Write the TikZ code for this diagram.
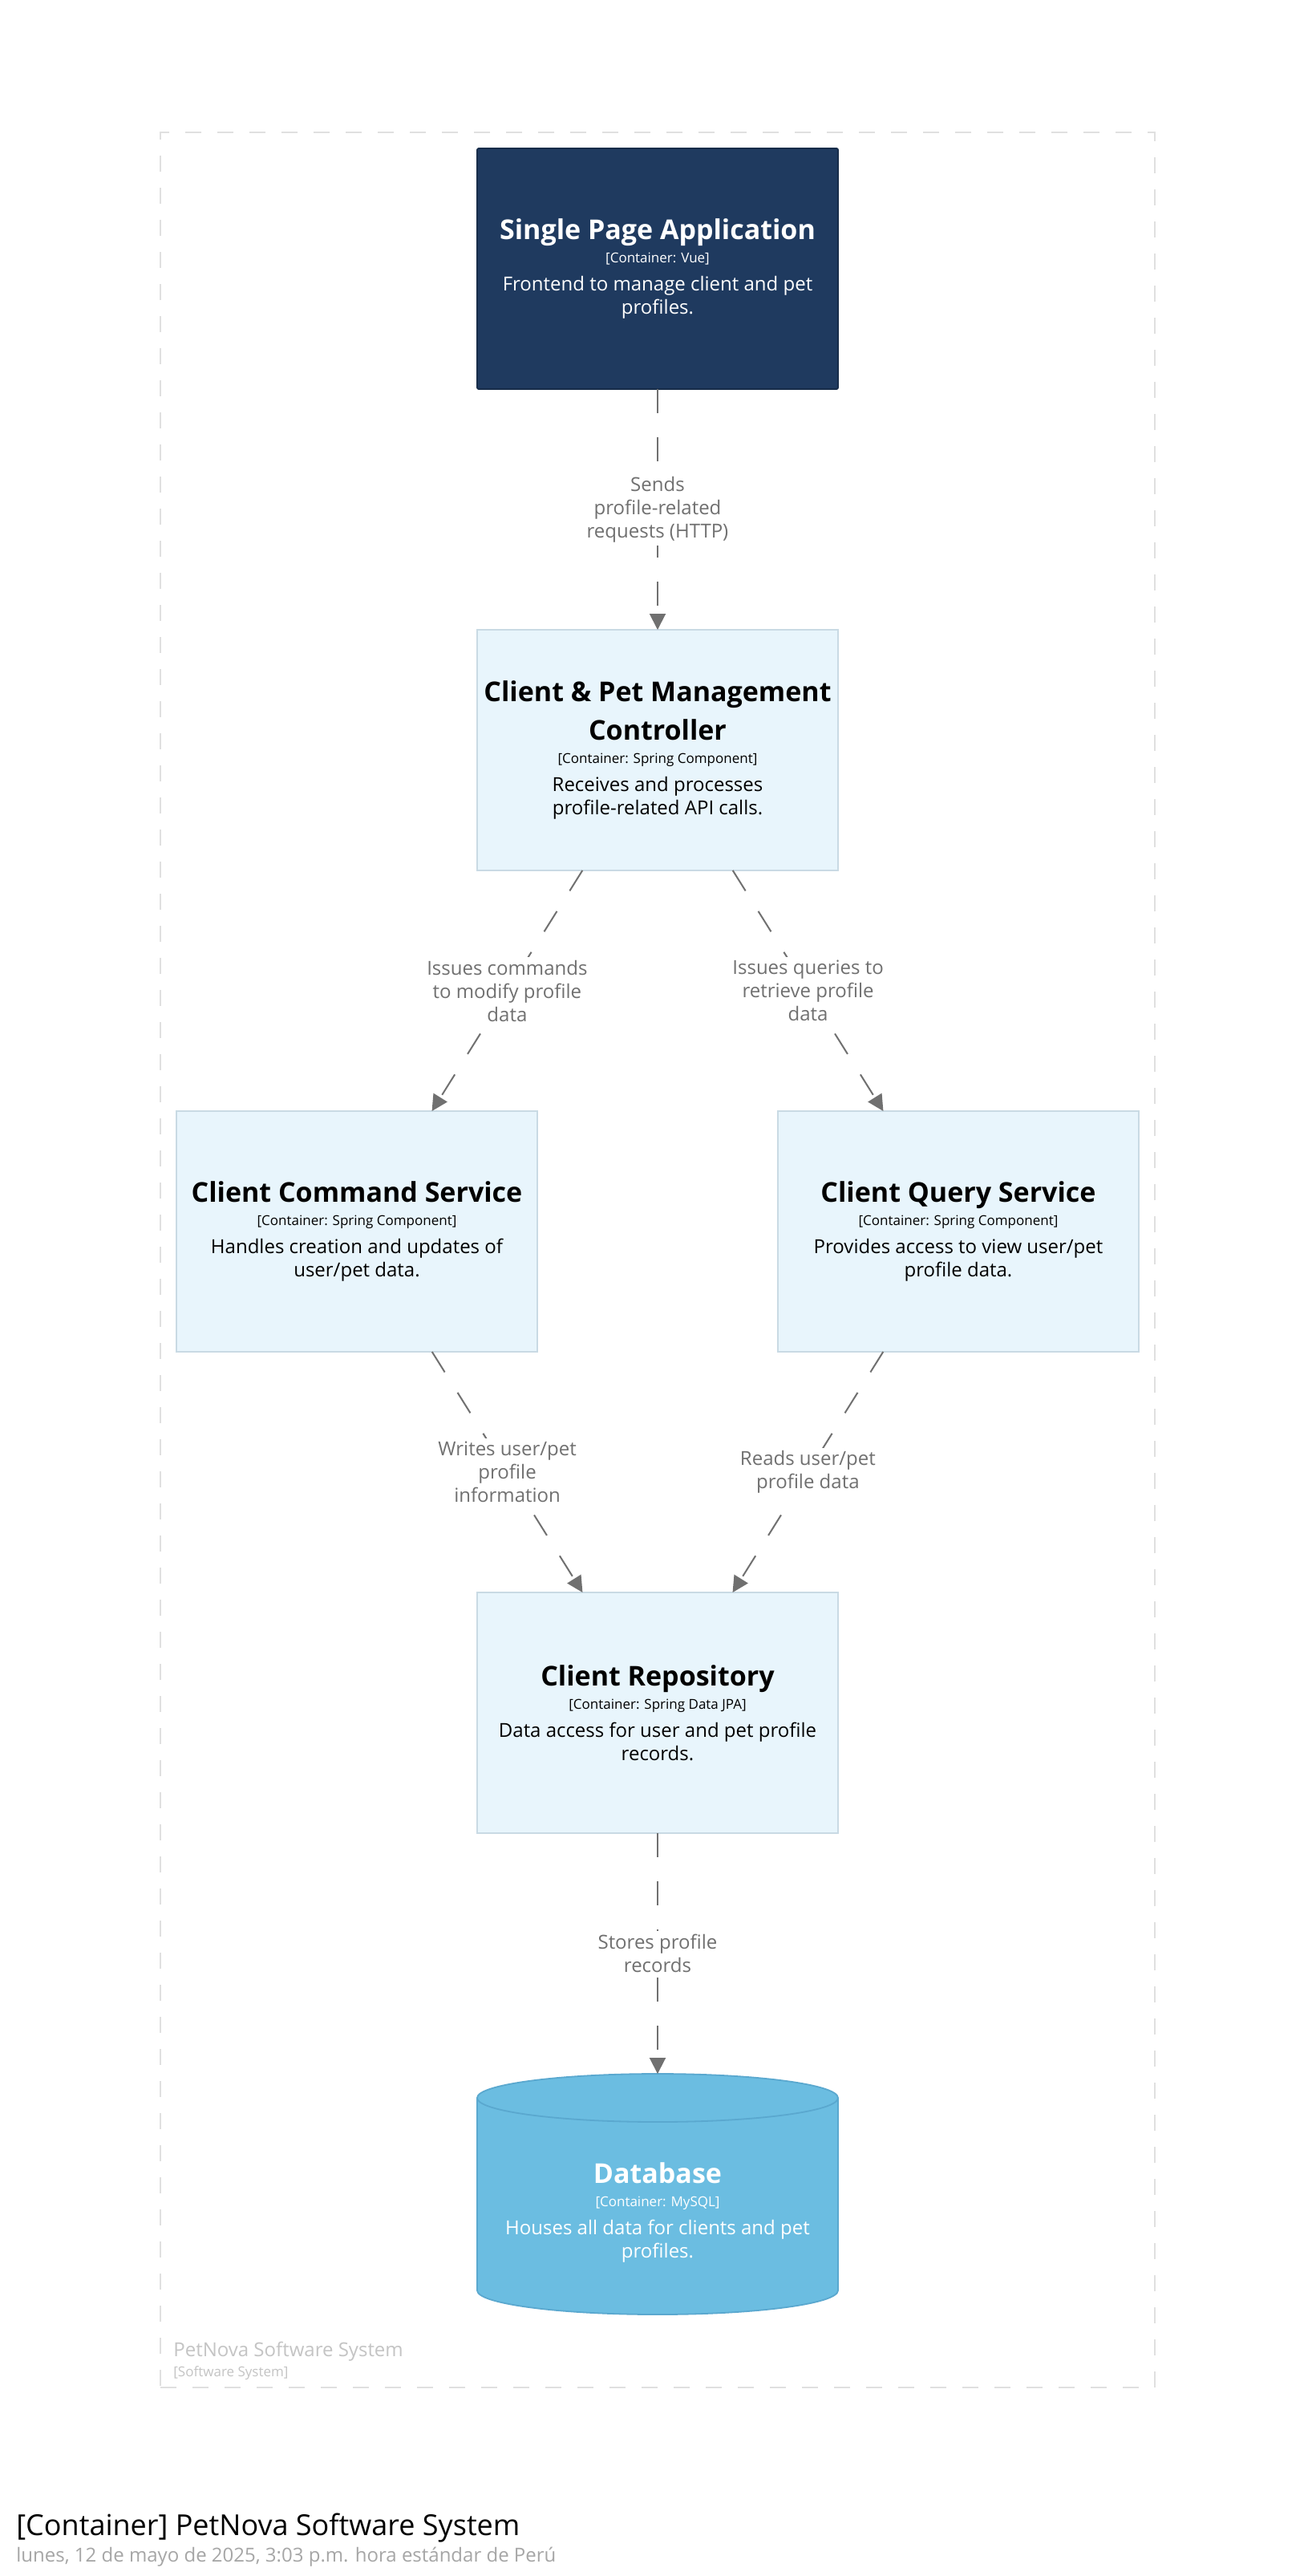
\documentclass[tikz,border=0pt]{standalone}
\usepackage{fontspec}
\setmainfont{Open Sans}
\usetikzlibrary{arrows.meta,positioning}
\usetikzlibrary{fit}
\usetikzlibrary{backgrounds}
\definecolor{spa_blue}{HTML}{1F3A5F}
\definecolor{spa_border}{HTML}{172C49}
\definecolor{comp_fill}{HTML}{E8F5FC}
\definecolor{comp_border}{HTML}{C9DAE4}
\definecolor{db_fill}{HTML}{6BBDE1}
\definecolor{db_border}{HTML}{5AA8CF}
\definecolor{rel_grey}{HTML}{707070}
\definecolor{bound_grey}{HTML}{E0E0E0}
\definecolor{bound_text}{HTML}{C4C4C4}
\definecolor{date_grey}{HTML}{A6A6A6}
\newcommand{\ctitle}{\fontsize{17}{20.5}\selectfont\bfseries}
\newcommand{\ctech}{\fontsize{8.5}{10}\selectfont}

\begin{document}
\begin{tikzpicture}[
	    x=1pt, y=1pt,
	    comp/.style={rectangle, draw=comp_border, fill=comp_fill, line width=0.9pt, minimum width=225pt, minimum height=150pt, inner sep=0pt, outer sep=0pt, align=center, font=\fontsize{12}{14.5}\selectfont},
	    spabox/.style={comp, draw=spa_border, fill=spa_blue, text=white, rounded corners=1pt},
	    dbbox/.style={comp, draw=none, fill=none},
	    dbtext/.style={align=center, inner sep=0pt, text=white, font=\fontsize{12}{14.5}\selectfont},
	    dbshape/.style={draw=db_border, fill=db_fill, line width=0.9pt},
	    rel/.style={draw=rel_grey, line width=1pt, dash pattern=on 15pt off 15pt, -{Triangle[length=10pt, width=10pt]}},
	    rellabel/.style={fill=white, text=rel_grey, align=center, inner sep=2pt, font=\fontsize{12}{14.5}\selectfont},
	    boundarybox/.style={draw=bound_grey, line width=1pt, dash pattern=on 10pt off 10pt, inner sep=0pt},
	    boundtext/.style={text=bound_text, inner sep=0pt, anchor=base west},
	]
	\path[use as bounding box] (0,0) rectangle (820,-1605.5);

	% ------------ Containers

	\node[spabox] (spa) at (410,-167.5) {{\ctitle Single Page Application}\\
	    {\ctech [Container: Vue]}\\[3pt]
	    Frontend to manage client and pet\\profiles.};
	\node[comp, below=150pt of spa] (ctrl) {{\ctitle Client \& Pet Management}\\[6pt]
	    {\ctitle Controller}\\
	    {\ctech [Container: Spring Component]}\\[3pt]
	    Receives and processes\\profile-related API calls.};
	\node[comp, below left=150pt and -37.5pt of ctrl] (cmd) {{\ctitle Client Command Service}\\
	    {\ctech [Container: Spring Component]}\\[3pt]
	    Handles creation and updates of\\user/pet data.};
	\node[comp, below right=150pt and -37.5pt of ctrl] (qry) {{\ctitle Client Query Service}\\
	    {\ctech [Container: Spring Component]}\\[3pt]
	    Provides access to view user/pet\\profile data.};
	\node[comp, below=450pt of ctrl] (repo) {{\ctitle Client Repository}\\
	    {\ctech [Container: Spring Data JPA]}\\[3pt]
	    Data access for user and pet profile\\records.};
	\node[dbbox, below=150pt of repo] (db) {};

	\begin{scope}[on background layer]
	    \fill[white] (0,0) rectangle (820,-1605.5);
	    \path[dbshape] ([yshift=-15pt]db.north west) -- ([yshift=15pt]db.south west)
	        arc[start angle=180, end angle=360, x radius=112.5, y radius=15]
	        -- ([yshift=-15pt]db.north east)
	        arc[start angle=0, end angle=180, x radius=112.5, y radius=15] -- cycle;
	    \draw[db_border, line width=0.9pt] ([yshift=-15pt]db.north west)
	        arc[start angle=180, end angle=360, x radius=112.5, y radius=15];
	\end{scope}
	\node[dbtext, yshift=-11.5pt] (dblabel) at (db) {{\ctitle Database}\\
	    {\ctech [Container: MySQL]}\\[3pt]
	    Houses all data for clients and pet\\profiles.};

	% ------------ Relationships

	\draw[rel] (spa) -- node[rellabel] (sendslbl) {Sends\\profile-related\\requests (HTTP)} (ctrl);
	\draw[rel] (ctrl) -- node[rellabel] (cmdlbl) {Issues commands\\to modify profile\\data} (cmd);
	\draw[rel] (ctrl) -- node[rellabel] (qrylbl) {Issues queries to\\retrieve profile\\data} (qry);
	\draw[rel] (cmd) -- node[rellabel] (writelbl) {Writes user/pet\\profile\\information} (repo);
	\draw[rel] (qry) -- node[rellabel] (readlbl) {Reads user/pet\\profile data} (repo);
	\draw[rel] (repo) -- node[rellabel] (storelbl) {Stores profile\\records} (db);

	% ------------ Software system boundary

	\node[boundarybox, fit={(100,-82.5) (720,-1488)}] (system) {};
	\node[boundtext, font=\fontsize{12}{14.5}\selectfont] (sysname) at (108,-1468.5) {PetNova Software System};
	\node[boundtext, font=\fontsize{8.5}{10}\selectfont] (systype) at (108,-1481) {[Software System]};

	% ------------ View title

	\node[anchor=base west, inner sep=0pt, font=\fontsize{18}{22}\selectfont] (viewtitle) at (10,-1580) {[Container] PetNova Software System};
	\node[anchor=base west, inner sep=0pt, text=date_grey, font=\fontsize{12}{14.5}\selectfont] (viewdate) at (10,-1596.5) {lunes, 12 de mayo de 2025, 3:03 p.m. hora estándar de Perú};

\end{tikzpicture}
\end{document}
